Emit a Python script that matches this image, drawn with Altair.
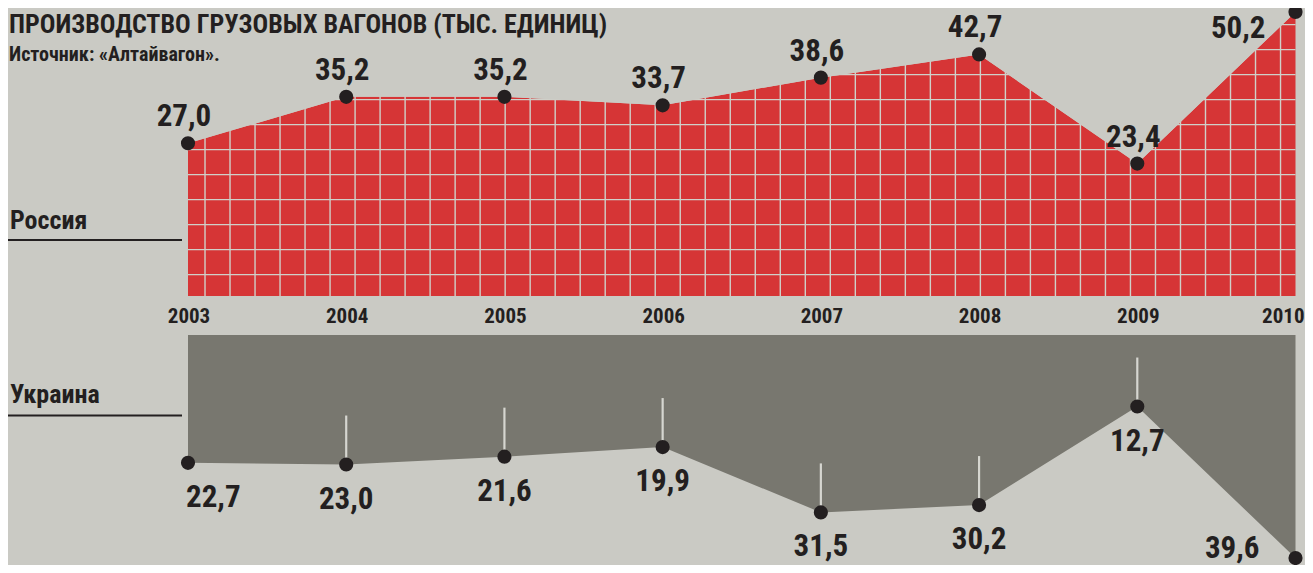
import altair as alt
import pandas as pd

# ---- data ----
years = [2003, 2004, 2005, 2006, 2007, 2008, 2009, 2010]
russia = [27.0, 35.2, 35.2, 33.7, 38.6, 42.7, 23.4, 50.2]
ukraine = [22.7, 23.0, 21.6, 19.9, 31.5, 30.2, 12.7, 39.6]

title_text = "ПРОИЗВОДСТВО ГРУЗОВЫХ ВАГОНОВ (ТЫС. ЕДИНИЦ)"
source_text = "Источник: «Алтайвагон»."
label_ru = "Россия"
label_ua = "Украина"

# ---- style ----
BG = "#cacac4"
RED = "#d63536"
GREY = "#78776f"
INK = "#231f20"
GRIDC = "#d0d0c9"
TICKC = "#d6d6d0"
FONT = "'Roboto Condensed', 'DejaVu Sans Condensed', sans-serif"

W, H = 1297, 557
RU_MAX = 50.2
UA_MAX = 39.6

# decorative grid pattern (in data units) for the red area
GRID_X_START, GRID_X_STEP = 2003.1075, 0.15809
GRID_Y_START, GRID_Y_STEP = 3.78, 4.419


def fmt(v):
    return f"{v:.1f}".replace(".", ",")


ru = pd.DataFrame({"year": years, "value": russia, "label": [fmt(v) for v in russia]})
ua = pd.DataFrame({"year": years, "value": ukraine, "label": [fmt(v) for v in ukraine]})
yr = pd.DataFrame({"year": years, "label": [str(y) for y in years]})

xs = alt.Scale(domain=[2003, 2010], range=[180, 1287.5])
X = alt.X("year:Q", scale=xs, axis=None)

ys_ru = alt.Scale(domain=[0, RU_MAX], range=[288, 4], nice=False, zero=False)
ys_ua = alt.Scale(domain=[0, UA_MAX], range=[327, 550], nice=False, zero=False)
Y_RU = alt.Y("value:Q", scale=ys_ru, axis=None)
Y_UA = alt.Y("value:Q", scale=ys_ua, axis=None)

# ---- Russia panel ----
ru_base = alt.Chart(ru)
red_area = ru_base.mark_area(color=RED, opacity=1).encode(x=X, y=Y_RU, y2=alt.datum(0))

vgrid = alt.Chart(alt.sequence(GRID_X_START, 2010.0, GRID_X_STEP, as_="g")).mark_rule(
    color=GRIDC, strokeWidth=1.4
).encode(
    x=alt.X("g:Q", scale=xs, axis=None),
    y=alt.Y("a:Q", scale=ys_ru, axis=None),
    y2=alt.datum(RU_MAX),
).transform_calculate(a="0")

hgrid = alt.Chart(alt.sequence(GRID_Y_START, RU_MAX, GRID_Y_STEP, as_="h")).mark_rule(
    color=GRIDC, strokeWidth=1.4
).encode(
    x=alt.X("x0:Q", scale=xs, axis=None),
    x2=alt.datum(2010),
    y=alt.Y("h:Q", scale=ys_ru, axis=None),
).transform_calculate(x0="2003")

mask = ru_base.mark_area(color=BG, opacity=1).encode(x=X, y=Y_RU, y2=alt.datum(RU_MAX + 2))

ru_points = ru_base.mark_circle(size=200, color=INK, opacity=1).encode(x=X, y=Y_RU)

txt = dict(font=FONT, fontWeight="bold", color=INK, fontSize=31, baseline="alphabetic")
ru_labels = ru_base.mark_text(align="center", dx=-4, dy=-17, **txt).encode(
    x=X, y=Y_RU, text="label:N"
).transform_filter("datum.year < 2010")
ru_label_last = ru_base.mark_text(align="right", dx=-30, dy=26, **txt).encode(
    x=X, y=Y_RU, text="label:N"
).transform_filter("datum.year == 2010")

ytxt = dict(font=FONT, fontWeight="bold", color=INK, fontSize=21, baseline="alphabetic", dy=27)
year_labels = alt.Chart(yr).mark_text(align="center", dx=1, **ytxt).encode(
    x=X, y=alt.Y("z:Q", scale=ys_ru, axis=None), text="label:N",
).transform_calculate(z="0").transform_filter("datum.year < 2010")
year_label_last = alt.Chart(yr).mark_text(align="right", dx=9, **ytxt).encode(
    x=X, y=alt.Y("z:Q", scale=ys_ru, axis=None), text="label:N",
).transform_calculate(z="0").transform_filter("datum.year == 2010")

top = alt.layer(red_area, vgrid, hgrid, mask, ru_points, ru_labels, ru_label_last,
                year_labels, year_label_last)

# ---- Ukraine panel ----
ua_base = alt.Chart(ua)
grey_area = ua_base.mark_area(color=GREY, opacity=1).encode(x=X, y=Y_UA, y2=alt.datum(0))

ua_ticks = ua_base.mark_rule(color=TICKC, strokeWidth=2.2).encode(
    x=X,
    y=Y_UA,
    y2=alt.Y2("top:Q"),
).transform_filter("datum.year > 2003 && datum.year < 2010").transform_calculate(
    top="datum.value - 8.7"
)

ua_points = ua_base.mark_circle(size=200, color=INK, opacity=1).encode(x=X, y=Y_UA)

ua_labels = ua_base.mark_text(align="center", dy=44, **txt).encode(
    x=X, y=Y_UA, text="label:N"
).transform_filter("datum.year > 2003 && datum.year < 2010")
ua_label_first = ua_base.mark_text(align="left", dx=-2, dy=44, **txt).encode(
    x=X, y=Y_UA, text="label:N"
).transform_filter("datum.year == 2003")
ua_label_last = ua_base.mark_text(align="right", dx=-36, dy=0, **txt).encode(
    x=X, y=Y_UA, text="label:N"
).transform_filter("datum.year == 2010")

bottom = alt.layer(grey_area, ua_ticks, ua_points, ua_labels, ua_label_first, ua_label_last)


# ---- annotations ----
def note(text, x, y, size, align="left"):
    return alt.Chart(pd.DataFrame({"t": [text]})).mark_text(
        font=FONT, fontWeight="bold", color=INK, fontSize=size,
        baseline="alphabetic", align=align,
    ).encode(x=alt.value(x), y=alt.value(y), text="t:N")


def line(x1, x2, y):
    return alt.Chart(pd.DataFrame({"t": [0]})).mark_rule(color=INK, strokeWidth=2).encode(
        x=alt.value(x1), x2=alt.value(x2), y=alt.value(y)
    )


annotations = alt.layer(
    note(title_text, 1, 25, 26),
    note(source_text, 1, 53, 20),
    note(label_ru, 2, 221, 26),
    line(-1, 174, 232),
    note(label_ua, 2, 395, 26),
    line(-1, 174, 407.5),
)

chart = (
    alt.layer(top, bottom, annotations)
    .resolve_scale(y="independent")
    .properties(
        width=W,
        height=H,
        autosize=alt.AutoSizeParams(type="none"),
        padding=0,
        background=BG,
    )
    .configure_view(stroke=None)
)

chart.save("out.html", embed_options={"renderer": "svg", "actions": False})
